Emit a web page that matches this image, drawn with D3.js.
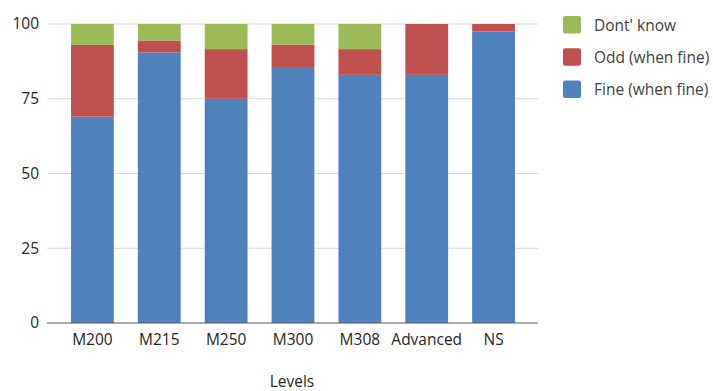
<!DOCTYPE html>
<html>
<head>
<meta charset="utf-8">
<script src="https://cdn.jsdelivr.net/npm/d3@7"></script>
<style>
  html, body { margin: 0; padding: 0; background: #fff; }
  svg { display: block; font-family: "Open Sans", "Noto Sans", sans-serif; }
</style>
</head>
<body>
<svg id="chart" width="713" height="391"></svg>
<script>
// Response shares per course level (percent)
const levels = ["M200", "M215", "M250", "M300", "M308", "Advanced", "NS"];
const fine = [69, 90.5, 75, 85.6, 83, 83, 97.5];
const odd = [24, 4, 16.6, 7.5, 8.6, 17, 2.5];
const dontKnow = [7, 5.5, 8.4, 6.9, 8.4, 0, 0];
const yTicks = [0, 25, 50, 75, 100];

const seriesNames = ["Fine (when fine)", "Odd (when fine)", "Dont' know"];
const seriesColors = ["#4F81BD", "#C0504D", "#9BBB59"];

const rows = levels.map((lv, i) => ({
  level: lv,
  "Fine (when fine)": fine[i],
  "Odd (when fine)": odd[i],
  "Dont' know": dontKnow[i]
}));

const svg = d3.select("#chart");
const plotLeft = 47, plotRight = 538, plotTop = 24, plotBottom = 323;
const fontSize = 15.5;
const textColor = "#262626";

const x = d3.scaleBand().domain(levels).range([59, 527]).paddingInner(0.36).paddingOuter(0.18);
const y = d3.scaleLinear().domain([0, 100]).range([plotBottom, plotTop]);

// Horizontal gridlines
svg.append("g")
  .selectAll("line")
  .data(yTicks.filter(t => t > 0))
  .join("line")
  .attr("x1", plotLeft).attr("x2", plotRight)
  .attr("y1", d => y(d)).attr("y2", d => y(d))
  .attr("stroke", "#d9d9d9").attr("stroke-width", 1);

// Stacked bars
const stack = d3.stack().keys(seriesNames);
const layers = stack(rows);

svg.append("g")
  .selectAll("g")
  .data(layers)
  .join("g")
  .attr("fill", (d, i) => seriesColors[i])
  .selectAll("rect")
  .data(d => d.filter(s => s[1] - s[0] > 0))
  .join("rect")
  .attr("x", d => x(d.data.level))
  .attr("width", x.bandwidth())
  .attr("y", d => y(d[1]))
  .attr("height", d => y(d[0]) - y(d[1]));

// Y axis (labels only)
const yAxis = d3.axisLeft(y).tickValues(yTicks).tickSize(0).tickPadding(0);
const yg = svg.append("g").attr("transform", `translate(39,0)`).call(yAxis);
yg.select(".domain").remove();
yg.selectAll("text")
  .attr("font-size", fontSize)
  .attr("fill", textColor)
  .attr("font-family", "'Open Sans', 'Noto Sans', sans-serif");

// X axis baseline and category labels
svg.append("line")
  .attr("x1", plotLeft).attr("x2", plotRight)
  .attr("y1", plotBottom).attr("y2", plotBottom)
  .attr("stroke", "#595959").attr("stroke-width", 1.2);

const xAxis = d3.axisBottom(x).tickSize(0).tickPadding(0);
const xg = svg.append("g").attr("transform", `translate(0,${plotBottom + 11})`).call(xAxis);
xg.select(".domain").remove();
xg.selectAll("text")
  .attr("dy", "0.71em")
  .attr("font-size", fontSize)
  .attr("fill", textColor)
  .attr("font-family", "'Open Sans', 'Noto Sans', sans-serif");

// X axis title
svg.append("text")
  .attr("x", 292).attr("y", 387)
  .attr("text-anchor", "middle")
  .attr("font-size", fontSize)
  .attr("fill", textColor)
  .text("Levels");

// Legend (top to bottom: Dont' know, Odd, Fine)
const legendItems = seriesNames.map((n, i) => ({ name: n, color: seriesColors[i] })).reverse();
const legend = svg.append("g").attr("transform", "translate(563,16)");
const li = legend.selectAll("g")
  .data(legendItems)
  .join("g")
  .attr("transform", (d, i) => `translate(0,${i * 32.3})`);
li.append("rect")
  .attr("width", 18).attr("height", 17.5)
  .attr("rx", 2)
  .attr("fill", d => d.color);
li.append("text")
  .attr("x", 31).attr("y", 14.5)
  .attr("font-size", fontSize)
  .attr("fill", "#404040")
  .text(d => d.name);
</script>
</body>
</html>
